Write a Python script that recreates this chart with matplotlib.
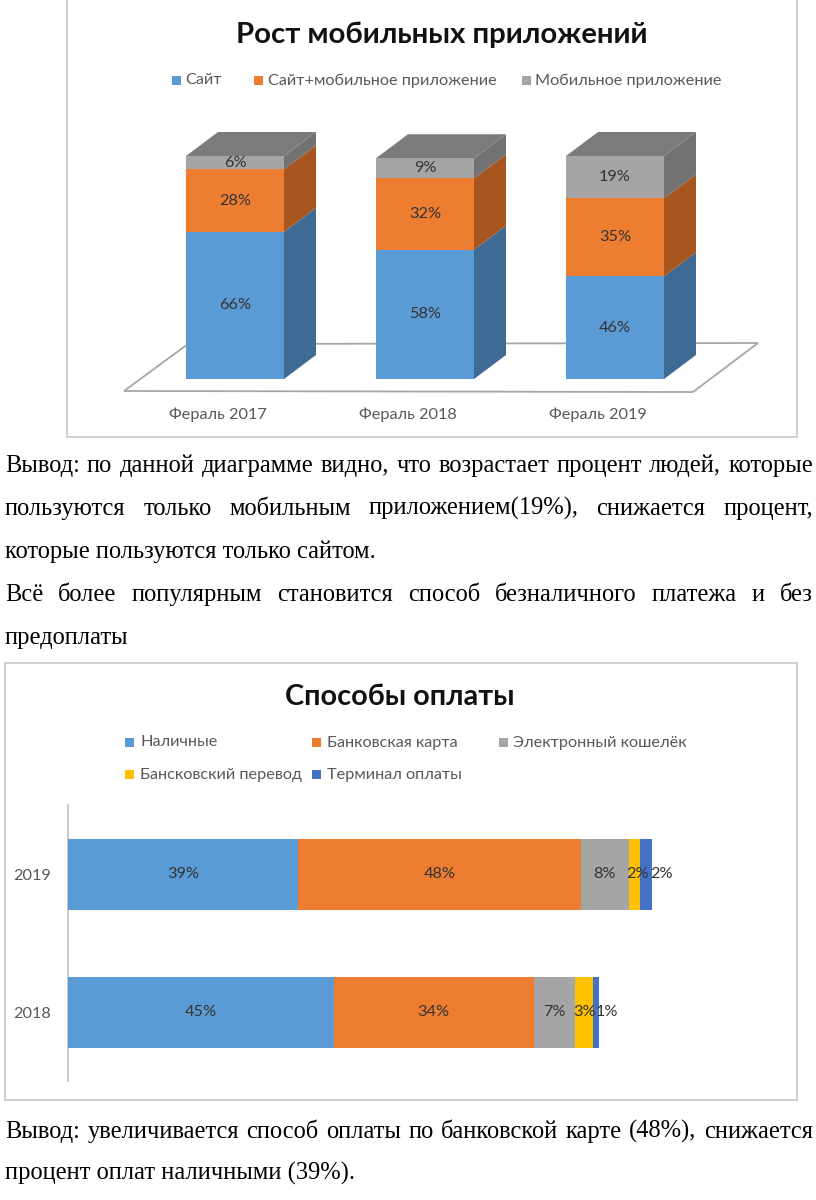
import matplotlib
matplotlib.use('Agg')
import matplotlib.pyplot as plt
from matplotlib.patches import Polygon, Rectangle
from matplotlib.transforms import Affine2D

W, H = 816, 1200

# ---------------- data: chart 1 ----------------
title1 = 'Рост мобильных приложений'
cat1 = ['Фераль 2017', 'Фераль 2018', 'Фераль 2019']
names1 = ['Сайт', 'Сайт+мобильное приложение', 'Мобильное приложение']
site = [66, 58, 46]
site_app = [28, 32, 35]
app_only = [6, 9, 19]

# ---------------- data: chart 2 ----------------
title2 = 'Способы оплаты'
cat2 = ['2018', '2019']
names2 = ['Наличные', 'Банковская карта', 'Электронный кошелёк',
          'Бансковский перевод', 'Терминал оплаты']
cash = [45, 39]
card = [34, 48]
ewallet = [7, 8]
transfer = [3, 2]
terminal = [1, 2]

# ---------------- text ----------------
para1 = [('Вывод: по данной диаграмме видно, что возрастает процент людей, которые', True),
         ('пользуются только мобильным приложением(19%), снижается процент,', True),
         ('которые пользуются только сайтом.', False),
         ('Всё более популярным становится способ безналичного платежа и без', True),
         ('предоплаты', False)]
para2 = [('Вывод: увеличивается способ оплаты по банковской карте (48%), снижается', True),
         ('процент оплат наличными (39%).', False)]

SANS = ['Lato', 'DejaVu Sans']
SERIF = ['Liberation Serif', 'DejaVu Serif']

fig = plt.figure(figsize=(W / 100, H / 100), dpi=100)
fig.patch.set_facecolor('white')
renderer = fig.canvas.get_renderer()
T = Affine2D().scale(1 / W, -1 / H).translate(0, 1) + fig.transFigure


def text_w(s, size, **kw):
    t = fig.text(0, 0, s, fontsize=size, **kw)
    w = t.get_window_extent(renderer).width
    t.remove()
    return w


def fit(s, target, **kw):
    return 20 * target / text_w(s, 20, **kw)


def ptext(x, y, s, **kw):
    return fig.text(x / W, 1 - y / H, s, **kw)


# font sizes
fs_title1 = fit(title1, 405, family=SANS, weight='bold') * 1.02
fs_title2 = fit(title2, 225, family=SANS, weight='bold') * 1.02
fs_small = fit('Сайт+мобильное приложение', 222, family=SANS) * 1.03
fs_body = fit('которые пользуются только сайтом.', 372, family=SERIF)

LBL = '#333333'
AXC = '#595959'

# ================= chart 1 (3D stacked columns) =================
fig.add_artist(Rectangle((67, -5), 730, 442, transform=T, fill=False,
                         edgecolor='#C8C8C8', lw=1.2, zorder=-2))
ptext(442, 35, title1, fontsize=fs_title1, weight='bold', family=SANS,
      ha='center', va='center', color='#111111')

front1 = ['#5B9BD5', '#ED7D31', '#A5A5A5']
side1 = ['#3E6A93', '#A8561F', '#727272']
top_col = '#7B7B7B'

leg1 = [(172, 185), (254, 268), (522, 535)]
for (mx, tx), nm, c in zip(leg1, names1, front1):
    fig.add_artist(Rectangle((mx, 76), 9, 9, transform=T, color=c, lw=0))
    ptext(tx, 80.5, nm, fontsize=fs_small, family=SANS, ha='left', va='center', color=AXC)

# floor outline (behind the bars)
fig.add_artist(Polygon([(124, 391), (693, 392), (758, 343), (188, 344)], closed=True,
                       transform=T, fill=False, edgecolor='#A6A6A6', lw=1.3, zorder=-1))

ax1 = fig.add_axes([140 / W, 1 - 379 / H, 570 / W, 223 / H])
ax1.set_xlim(-0.5, 2.5)
ax1.set_ylim(0, 100)
ax1.axis('off')

bw = 98 / 190
dx = 32 / 190
dy = 24 / 2.23
xs = list(range(len(cat1)))
series1 = [site, site_app, app_only]
bottoms = [0] * len(xs)
for k, vals in enumerate(series1):
    ax1.bar(xs, vals, width=bw, bottom=bottoms, color=front1[k], lw=0, zorder=3)
    for i, v in enumerate(vals):
        b = bottoms[i]
        xr = i + bw / 2
        ax1.add_patch(Polygon([(xr, b), (xr, b + v), (xr + dx, b + v + dy), (xr + dx, b + dy)],
                              closed=True, color=side1[k], lw=0, zorder=2, clip_on=False))
        ax1.text(i, b + v / 2, f'{v}%', ha='center', va='center', fontsize=fs_small,
                 family=SANS, color=LBL, zorder=5)
    bottoms = [b + v for b, v in zip(bottoms, vals)]
for i, tot in enumerate(bottoms):
    xl, xr = i - bw / 2, i + bw / 2
    ax1.add_patch(Polygon([(xl, tot), (xr, tot), (xr + dx, tot + dy), (xl + dx, tot + dy)],
                          closed=True, color=top_col, lw=0, zorder=2, clip_on=False))
    ax1.text(i - 17 / 190, -16.1, cat1[i], ha='center', va='center', fontsize=fs_small,
             family=SANS, color=AXC)


# ================= body text =================
def draw_lines(lines, y0, step):
    left, right = 5, 813
    for j, (s, just) in enumerate(lines):
        y = y0 + j * step
        if not just:
            ptext(left, y, s, fontsize=fs_body, family=SERIF, ha='left', va='baseline',
                  color='black')
            continue
        words = s.split(' ')
        ws = [text_w(w, fs_body, family=SERIF) for w in words]
        gap = (right - left - sum(ws)) / (len(words) - 1)
        x = left
        for w, wd in zip(words, ws):
            ptext(x, y, w, fontsize=fs_body, family=SERIF, ha='left', va='baseline',
                  color='black')
            x += wd + gap


draw_lines(para1, 472, 43)
draw_lines(para2, 1138, 42)

# ================= chart 2 (stacked horizontal bars) =================
fig.add_artist(Rectangle((5, 663), 792, 437, transform=T, fill=False,
                         edgecolor='#C8C8C8', lw=1.2, zorder=-2))
ptext(400, 697, title2, fontsize=fs_title2, weight='bold', family=SANS,
      ha='center', va='center', color='#111111')

colors2 = ['#5B9BD5', '#ED7D31', '#A5A5A5', '#FFC000', '#4472C4']
leg2 = [(125, 140, 742), (312, 327, 742), (499, 513, 742), (125, 140, 774), (312, 327, 774)]
for (mx, tx, y), nm, c in zip(leg2, names2, colors2):
    fig.add_artist(Rectangle((mx, y - 4.5), 9, 9, transform=T, color=c, lw=0))
    ptext(tx, y + 0.5, nm, fontsize=fs_small, family=SANS, ha='left', va='center', color=AXC)

ax2 = fig.add_axes([68 / W, 1 - 1081 / H, 590 / W, 276 / H])
ax2.set_xlim(0, 100)
ax2.set_ylim(-0.5, 1.5)
for sp in ['top', 'right', 'bottom']:
    ax2.spines[sp].set_visible(False)
ax2.spines['left'].set_color('#BFBFBF')
ax2.spines['left'].set_linewidth(1.2)
ax2.set_xticks([])
ys = list(range(len(cat2)))
ax2.set_yticks(ys)
ax2.set_yticklabels(cat2, fontsize=fs_small, family=SANS, color=AXC)
ax2.tick_params(axis='y', length=0, pad=12)

series2 = [cash, card, ewallet, transfer, terminal]
label_shift = [[0, 0], [0, 0], [0, 0], [0, 3], [11, 15]]  # pixel shifts (2018, 2019)
lefts = [0] * len(ys)
for k, vals in enumerate(series2):
    ax2.barh(ys, vals, height=71 / 138, left=lefts, color=colors2[k], lw=0, zorder=3)
    for i, v in enumerate(vals):
        ax2.annotate(f'{v}%', (lefts[i] + v / 2, i), xytext=(label_shift[k][i], 0),
                     textcoords='offset pixels', ha='center', va='center',
                     fontsize=fs_small, family=SANS, color=LBL, zorder=5,
                     annotation_clip=False)
    lefts = [a + v for a, v in zip(lefts, vals)]

fig.savefig('out.png', dpi=100, facecolor='white')
